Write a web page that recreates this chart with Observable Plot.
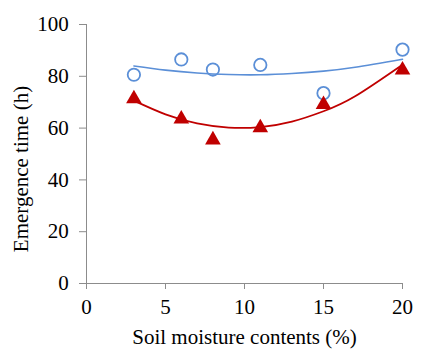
<!DOCTYPE html>
<html>
<head>
<meta charset="utf-8">
<script src="https://cdn.jsdelivr.net/npm/d3@7"></script>
<script src="https://cdn.jsdelivr.net/npm/@observablehq/plot@0.6"></script>
<style>
  html, body { margin: 0; padding: 0; background: #fff; }
  #chart { width: 448px; height: 354px; }
  #chart svg, #chart svg text { font-family: "Liberation Serif", "Times New Roman", serif !important; }
</style>
</head>
<body>
<div id="chart"></div>
<script>
// Soil moisture contents (%)
const moisture = [3, 6, 8, 11, 15, 20];
// Emergence time (h) – blue open circles
const seriesCircle = [80.6, 86.5, 82.6, 84.4, 73.5, 90.3];
// Emergence time (h) – red filled triangles
const seriesTriangle = [72.2, 64.4, 56.3, 61.0, 70.0, 83.3];

// Trend curves
const trendX = [3, 5, 7, 9, 11, 13, 15, 17, 20];
const trendCircle = [84.0, 82.4, 81.3, 80.7, 80.6, 81.1, 82.0, 83.5, 86.6];
const trendTriangle = [70.6, 65.3, 61.8, 60.2, 60.4, 62.5, 66.5, 72.3, 84.5];

const xTicks = [0, 5, 10, 15, 20];
const yTicks = [0, 20, 40, 60, 80, 100];
const xLabel = "Soil moisture contents (%)";
const yLabel = "Emergence time (h)";

const blue = "#5b8fd7";
const red = "#c00000";
const axisGray = "#8c8c8c";
const serif = "Liberation Serif";

const pts = moisture.map((x, i) => ({x, c: seriesCircle[i], t: seriesTriangle[i]}));
const trend = trendX.map((x, i) => ({x, c: trendCircle[i], t: trendTriangle[i]}));

const chart = Plot.plot({
  width: 448,
  height: 354,
  marginLeft: 86,
  marginRight: 46,
  marginTop: 24,
  marginBottom: 71,
  style: {background: "#fff", color: "#000"},
  x: {domain: [0, 20]},
  y: {domain: [0, 100]},
  marks: [
    Plot.axisX({ticks: xTicks, tickSize: 6, tickPadding: 9.8, stroke: axisGray, fill: "#000", label: null, fontSize: 21, fontFamily: serif}),
    Plot.axisY({ticks: yTicks, tickSize: 7, tickPadding: 10.7, stroke: axisGray, fill: "#000", label: null, fontSize: 21, fontFamily: serif}),
    Plot.ruleX([0], {stroke: axisGray, strokeWidth: 1}),
    Plot.ruleY([0], {stroke: axisGray, strokeWidth: 1}),
    Plot.line(trend, {x: "x", y: "c", stroke: blue, strokeWidth: 1.6, curve: "natural"}),
    Plot.line(trend, {x: "x", y: "t", stroke: red, strokeWidth: 1.8, curve: "natural"}),
    Plot.dot(pts, {x: "x", y: "c", r: 6.2, stroke: blue, strokeWidth: 1.8, fill: "none", symbol: "circle"}),
    Plot.dot(pts, {x: "x", y: "t", r: 5.8, fill: red, stroke: "none", symbol: "triangle", dy: 2.2}),
    Plot.text([xLabel], {frameAnchor: "bottom", dy: 54, lineAnchor: "middle", textAnchor: "middle", fontSize: 21, fontFamily: serif, fill: "#000"}),
    Plot.text([yLabel], {frameAnchor: "left", rotate: -90, dx: -65, dy: 15, lineAnchor: "middle", textAnchor: "middle", fontSize: 21, fontFamily: serif, fill: "#000"})
  ]
});
document.getElementById("chart").appendChild(chart);
</script>
</body>
</html>
